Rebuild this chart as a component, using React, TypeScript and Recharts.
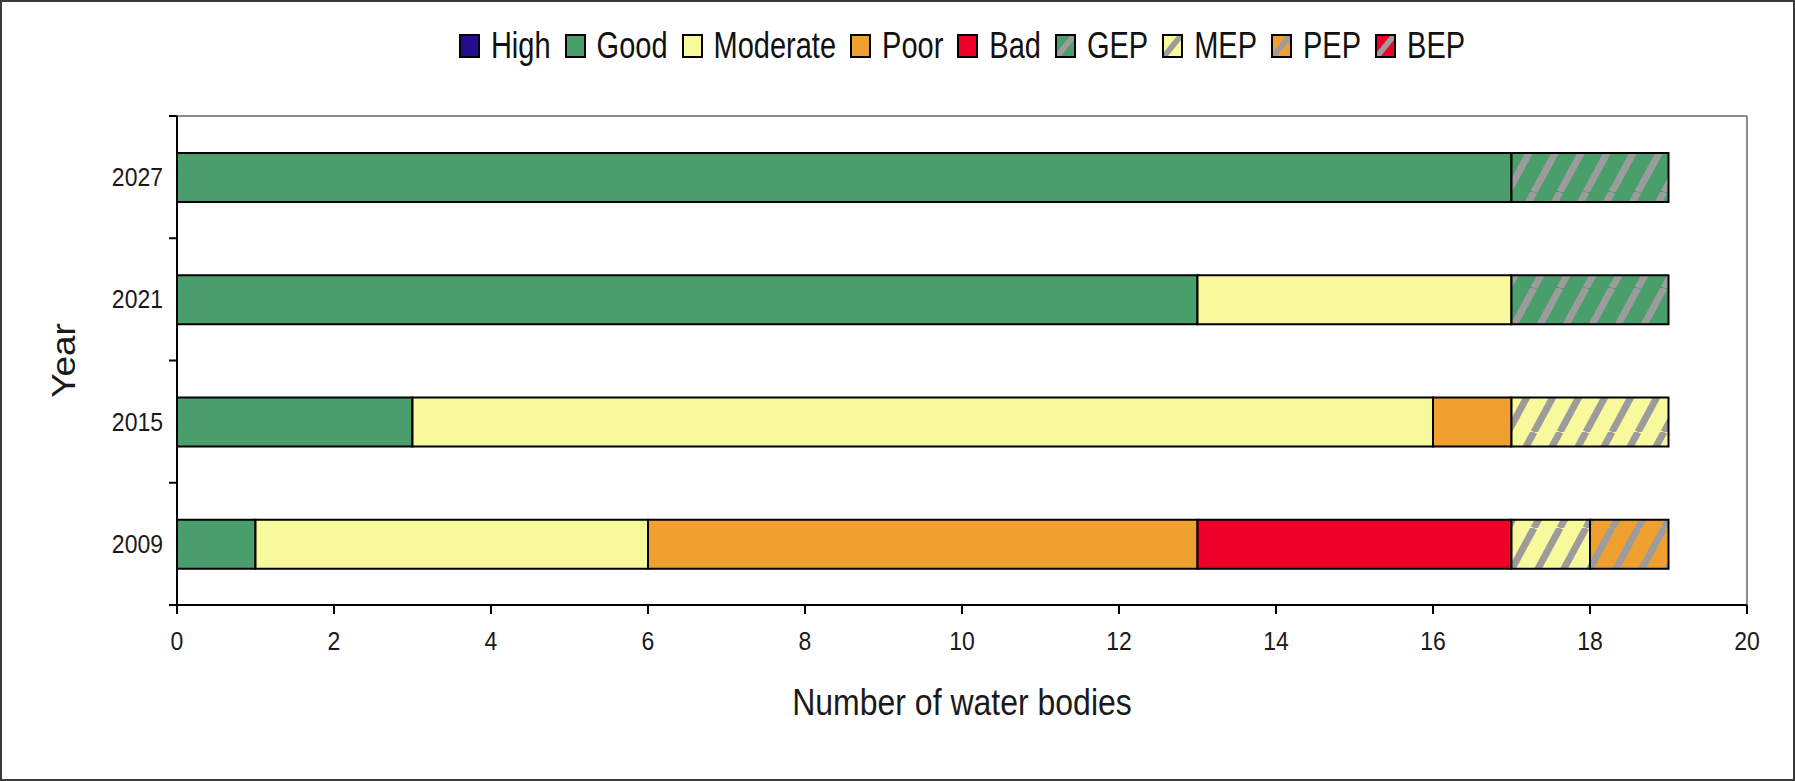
import React from "react";
import { BarChart, Bar, XAxis, YAxis, Legend, Label, CartesianGrid } from "recharts";

// Water body status by year (number of water bodies)
const years = ["2027", "2021", "2015", "2009"];
const high = [0, 0, 0, 0];
const good = [17, 13, 3, 1];
const moderate = [0, 4, 13, 5];
const poor = [0, 0, 1, 7];
const bad = [0, 0, 0, 4];
const gep = [2, 2, 0, 0];
const mep = [0, 0, 2, 1];
const pep = [0, 0, 0, 1];
const bep = [0, 0, 0, 0];

const xTicks = [0, 2, 4, 6, 8, 10, 12, 14, 16, 18, 20];

const series = [
  { key: "High", values: high, color: "#240C8C", hatch: false },
  { key: "Good", values: good, color: "#4A9E6C", hatch: false },
  { key: "Moderate", values: moderate, color: "#F7F99C", hatch: false },
  { key: "Poor", values: poor, color: "#F0A030", hatch: false },
  { key: "Bad", values: bad, color: "#EF0029", hatch: false },
  { key: "GEP", values: gep, color: "#4A9E6C", hatch: true },
  { key: "MEP", values: mep, color: "#F7F99C", hatch: true },
  { key: "PEP", values: pep, color: "#F0A030", hatch: true },
  { key: "BEP", values: bep, color: "#EF0029", hatch: true },
];

const data = years.map((year, i) => {
  const row: Record<string, string | number> = { year };
  series.forEach((s) => (row[s.key] = s.values[i]));
  return row;
});

const FONT = "'Liberation Sans', Arial, sans-serif";
const STRIPE = "#9C9C9C";
const Y_TICK_SIZE = 8;
const Y_TICK_MARGIN = 6;

const fillFor = (s: (typeof series)[number]) => (s.hatch ? `url(#hatch-${s.key})` : s.color);

const XTick = (props: any) => {
  const { x, y, payload } = props;
  return (
    <text
      transform={`translate(${x},${y + 34}) scale(1,1.15)`}
      textAnchor="middle"
      fontFamily={FONT}
      fontSize={23}
      fill="#1a1a1a"
    >
      {payload.value}
    </text>
  );
};

const YTick = (props: any) => {
  const { x, y, payload, index } = props;
  const half = payload.offset || 61;
  const axisX = x + Y_TICK_MARGIN + Y_TICK_SIZE;
  return (
    <g>
      <line x1={axisX - Y_TICK_SIZE} x2={axisX} y1={y - half} y2={y - half} stroke="#000" strokeWidth={2} />
      {index === years.length - 1 && (
        <line x1={axisX - Y_TICK_SIZE} x2={axisX} y1={y + half} y2={y + half} stroke="#000" strokeWidth={2} />
      )}
      <text
        transform={`translate(${x},${y + 9}) scale(1,1.15)`}
        textAnchor="end"
        fontFamily={FONT}
        fontSize={23}
        fill="#1a1a1a"
      >
        {payload.value}
      </text>
    </g>
  );
};

const XTitle = (props: any) => {
  const { x, y, width } = props.viewBox;
  return (
    <text
      transform={`translate(${x + width / 2},${y + 110}) scale(1,1.18)`}
      textAnchor="middle"
      fontFamily={FONT}
      fontSize={32}
      fill="#1a1a1a"
    >
      Number of water bodies
    </text>
  );
};

const YTitle = (props: any) => {
  const { x, y, height } = props.viewBox;
  return (
    <text
      transform={`translate(${x + 18},${y + height / 2}) rotate(-90) scale(1.12,1)`}
      textAnchor="middle"
      fontFamily={FONT}
      fontSize={33}
      fill="#1a1a1a"
    >
      Year
    </text>
  );
};

const Swatch = ({ color, hatch }: { color: string; hatch: boolean }) => (
  <svg width={21} height={24} style={{ marginRight: 11, flex: "none" }}>
    <rect x={1} y={1} width={19} height={22} fill={color} stroke="#000" strokeWidth={2} />
    {hatch && <polygon points="2,18 15,2 19,2 19,6 6,22 2,22" fill={STRIPE} />}
    {hatch && <rect x={1} y={1} width={19} height={22} fill="none" stroke="#000" strokeWidth={2} />}
  </svg>
);

const renderLegend = () => (
  <div
    style={{
      display: "flex",
      justifyContent: "center",
      alignItems: "center",
      height: 60,
      fontFamily: FONT,
    }}
  >
    {series.map((s, i) => (
      <div
        key={s.key}
        style={{ display: "flex", alignItems: "center", marginRight: i === series.length - 1 ? 0 : 14 }}
      >
        <Swatch color={s.color} hatch={s.hatch} />
        <span
          style={{
            display: "inline-block",
            fontSize: 29,
            lineHeight: 1,
            transform: "scaleY(1.26)",
            color: "#111",
          }}
        >
          {s.key}
        </span>
      </div>
    ))}
  </div>
);

// plot frame: top and right edges of the plot area
const frameTop = ({ offset }: any) => [offset.top];
const frameRight = ({ offset }: any) => [offset.left + offset.width];

export default function App() {
  return (
    <div style={{ position: "absolute", left: 0, top: 0, width: 1795, height: 781, background: "#fff" }}>
      <BarChart
        width={1795}
        height={781}
        data={data}
        layout="vertical"
        margin={{ top: 56, right: 48, bottom: 76, left: 57 }}
      >
        <defs>
          {series
            .filter((s) => s.hatch)
            .map((s) => (
              <pattern
                key={s.key}
                id={`hatch-${s.key}`}
                patternUnits="userSpaceOnUse"
                width={26}
                height={48}
              >
                <rect width={26} height={48} fill={s.color} />
                <line x1={-26} y1={48} x2={0} y2={0} stroke={STRIPE} strokeWidth={7} />
                <line x1={0} y1={48} x2={26} y2={0} stroke={STRIPE} strokeWidth={7} />
                <line x1={26} y1={48} x2={52} y2={0} stroke={STRIPE} strokeWidth={7} />
              </pattern>
            ))}
        </defs>
        <CartesianGrid
          stroke="#8c8c8c"
          strokeWidth={2}
          horizontalCoordinatesGenerator={frameTop}
          verticalCoordinatesGenerator={frameRight}
        />
        <Legend
          verticalAlign="top"
          align="left"
          content={renderLegend}
          wrapperStyle={{ top: 16, left: 177, width: 1570, height: 60 }}
        />
        <XAxis
          type="number"
          domain={[0, 20]}
          ticks={xTicks}
          height={100}
          tickSize={9}
          tickMargin={2}
          axisLine={{ stroke: "#000", strokeWidth: 2 }}
          tickLine={{ stroke: "#000", strokeWidth: 2 }}
          tick={<XTick />}
          interval={0}
        >
          <Label content={<XTitle />} />
        </XAxis>
        <YAxis
          type="category"
          dataKey="year"
          width={120}
          tickSize={Y_TICK_SIZE}
          tickMargin={Y_TICK_MARGIN}
          tickLine={false}
          axisLine={{ stroke: "#000", strokeWidth: 2 }}
          tick={<YTick />}
          interval={0}
        >
          <Label content={<YTitle />} />
        </YAxis>
        {series.map((s) => (
          <Bar
            key={s.key}
            dataKey={s.key}
            name={s.key}
            stackId="status"
            fill={fillFor(s)}
            stroke="#000"
            strokeWidth={2}
            barSize={49}
            isAnimationActive={false}
          />
        ))}
      </BarChart>
      <div
        style={{
          position: "absolute",
          left: 0,
          top: 0,
          width: 1795,
          height: 781,
          boxSizing: "border-box",
          border: "2px solid #3a3a3a",
          pointerEvents: "none",
        }}
      />
    </div>
  );
}
